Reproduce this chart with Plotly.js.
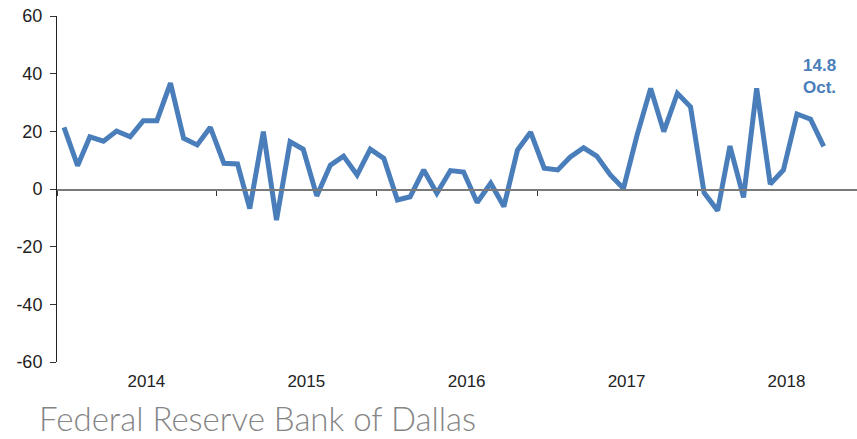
<!DOCTYPE html>
<html>
<head>
<meta charset="utf-8">
<script src="https://cdn.plot.ly/plotly-3.0.1.min.js"></script>
<style>html,body{margin:0;padding:0;background:#fff;}#chart{width:857px;height:439px;}</style>
</head>
<body>
<div id="chart"></div>
<script>
// Monthly observations, Jan 2014 – Oct 2018
var months = [
  "2014-01","2014-02","2014-03","2014-04","2014-05","2014-06","2014-07","2014-08","2014-09","2014-10","2014-11","2014-12",
  "2015-01","2015-02","2015-03","2015-04","2015-05","2015-06","2015-07","2015-08","2015-09","2015-10","2015-11","2015-12",
  "2016-01","2016-02","2016-03","2016-04","2016-05","2016-06","2016-07","2016-08","2016-09","2016-10","2016-11","2016-12",
  "2017-01","2017-02","2017-03","2017-04","2017-05","2017-06","2017-07","2017-08","2017-09","2017-10","2017-11","2017-12",
  "2018-01","2018-02","2018-03","2018-04","2018-05","2018-06","2018-07","2018-08","2018-09","2018-10"
];
var values = [
  21.4, 8.1, 18.1, 16.6, 20.1, 18.1, 23.7, 23.7, 36.7, 17.6, 15.3, 21.4,
  8.9, 8.7, -6.8, 19.9, -10.8, 16.4, 13.8, -2.4, 8.3, 11.4, 4.9, 13.8,
  10.6, -3.8, -2.7, 6.6, -1.5, 6.4, 5.9, -4.7, 2.0, -6.1, 13.5, 19.7,
  7.2, 6.6, 11.0, 14.3, 11.4, 4.9, 0.2, 18.7, 34.9, 19.9, 33.2, 28.5,
  -1.3, -7.5, 14.9, -2.9, 34.9, 1.7, 6.6, 26.0, 24.2, 14.8
];
var yearLabels = ["2014", "2015", "2016", "2017", "2018"];
var yearLabelPos = ["2014-07-08", "2015-07-08", "2016-07-08", "2017-07-08", "2018-07-08"];
var yearBoundaries = ["2013-12-16", "2014-12-16", "2015-12-16", "2016-12-16", "2017-12-16", "2018-12-16"];
var yTicks = [-60, -40, -20, 0, 20, 40, 60];
var yTickText = ["-60", "-40", "-20", "0", "20", "40", "60"];
var lastLabel = "14.8<br>Oct.";
var footer = "Federal Reserve Bank of Dallas";

var blue = "#4a7ebb";
var xRange = ["2013-12-16", "2018-12-16"];

var traces = [
  {
    x: months, y: values, type: "scatter", mode: "lines",
    line: {color: blue, width: 5, shape: "linear"},
    hoverinfo: "skip", showlegend: false
  },
  {
    x: months, y: values, type: "scatter", mode: "lines",
    xaxis: "x2", opacity: 0, line: {width: 0},
    hoverinfo: "skip", showlegend: false
  }
];

var layout = {
  width: 857, height: 439,
  margin: {l: 57, r: 0, t: 16, b: 77},
  paper_bgcolor: "#fff", plot_bgcolor: "#fff",
  font: {family: "Liberation Sans, Arial, sans-serif", color: "#222"},
  showlegend: false,
  xaxis: {
    type: "date", range: xRange,
    tickmode: "array", tickvals: yearLabelPos, ticktext: yearLabels,
    ticks: "", showline: false, showgrid: false, zeroline: false,
    tickfont: {size: 17, color: "#222"}, ticklabelstandoff: 7
  },
  xaxis2: {
    type: "date", range: xRange, overlaying: "x", anchor: "free", position: 0.5,
    tickmode: "array", tickvals: yearBoundaries,
    ticks: "outside", ticklen: 5, tickcolor: "#333", tickwidth: 1,
    showticklabels: false, showline: true, linecolor: "#7a7a7a", linewidth: 1.5,
    showgrid: false, zeroline: false
  },
  yaxis: {
    range: [-60, 60], tickmode: "array", tickvals: yTicks, ticktext: yTickText,
    ticks: "outside", ticklen: 6, tickcolor: "#333",
    showline: true, linecolor: "#222", linewidth: 1,
    showgrid: false, zeroline: false,
    tickfont: {size: 18, color: "#222"}, ticklabelstandoff: 4
  },
  annotations: [
    {
      x: months[months.length - 1], y: 39, xref: "x", yref: "y",
      text: lastLabel, showarrow: false, xshift: -4,
      xanchor: "center", yanchor: "middle", align: "center",
      font: {size: 17, color: blue, family: "Liberation Sans, Arial, sans-serif", weight: "bold"}
    },
    {
      x: -0.025, y: -0.162, xref: "paper", yref: "paper",
      text: footer, showarrow: false, xanchor: "left", yanchor: "middle",
      font: {size: 33, color: "#858585", family: "Lato, Open Sans, sans-serif", weight: 300}
    }
  ]
};

Plotly.newPlot("chart", traces, layout, {displayModeBar: false, staticPlot: true});
</script>
</body>
</html>
